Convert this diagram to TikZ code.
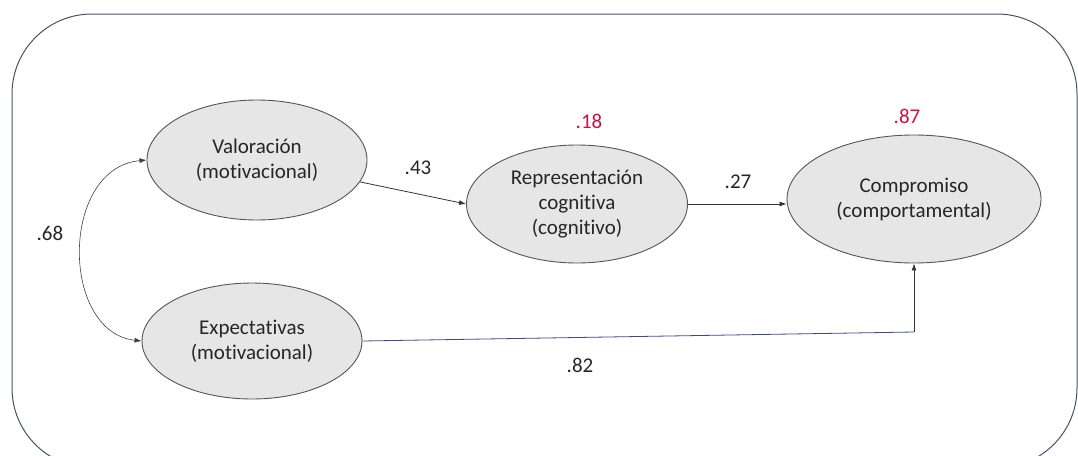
\documentclass[tikz,border=0pt]{standalone}
\usepackage{fontspec}
\setmainfont[Ligatures=NoCommon]{Carlito}
\usetikzlibrary{arrows.meta,shapes.geometric}
\definecolor{framec}{HTML}{4A5068}
\definecolor{nodefill}{HTML}{E6E6E6}
\definecolor{nodeline}{HTML}{555555}
\definecolor{coef}{HTML}{CC1144}
\definecolor{pathblue}{HTML}{3A4A8A}
\begin{document}
\begin{tikzpicture}[x=1pt,y=-1pt,
  latent/.style={ellipse,draw=nodeline,fill=nodefill,line width=0.9pt,
    inner sep=0pt,align=center,font=\fontsize{21}{25}\selectfont,text=black!85},
  path/.style={-{Latex[length=7pt,width=5pt]},line width=0.8pt,draw=black!80},
  lbl/.style={font=\fontsize{21}{25}\selectfont,text=black!85},
  rsq/.style={font=\fontsize{21}{25}\selectfont,text=coef}]
\useasboundingbox (0,0) rectangle (1078,455);
% outer frame, partly cut by the page edge
\begin{scope}
\clip (0,0) rectangle (1078,455);
\draw[framec,line width=1pt,rounded corners=80] (12,14) rectangle (1077,468);
\end{scope}
% latent constructs
\node[latent,minimum width=220,minimum height=120] (val) at (257,160) {Valoración\\(motivacional)};
\node[latent,minimum width=220,minimum height=116] (exp) at (252,341) {Expectativas\\(motivacional)};
\node[latent,minimum width=221,minimum height=118] (rep) at (577,204) {Representación\\cognitiva\\(cognitivo)};
\node[latent,minimum width=254,minimum height=128] (comp) at (914,199) {Compromiso\\(comportamental)};
% explained variance
\node[rsq] (r2rep) at (589,121) {.18};
\node[rsq] (r2comp) at (907,116) {.87};
% paths
\draw[path] (val.-12) -- (rep.west);
\draw[path] (rep.east) -- (rep.east -| comp.west);
\coordinate (turn) at (914,332);
\draw[line width=0.8pt,draw=pathblue] (exp.east) -- (turn);
\draw[path] (turn) -- (comp.south);
\draw[{Latex[length=7pt,width=5pt]}-{Latex[length=7pt,width=5pt]},line width=0.6pt,draw=black!75]
  (val.west) .. controls (60,168) and (60,332) .. (exp.west);
% coefficients
\node[lbl] (c43) at (418,168) {.43};
\node[lbl] (c27) at (738,182) {.27};
\node[lbl] (c68) at (50,233) {.68};
\node[lbl] (c82) at (580,365) {.82};
\end{tikzpicture}
\end{document}
